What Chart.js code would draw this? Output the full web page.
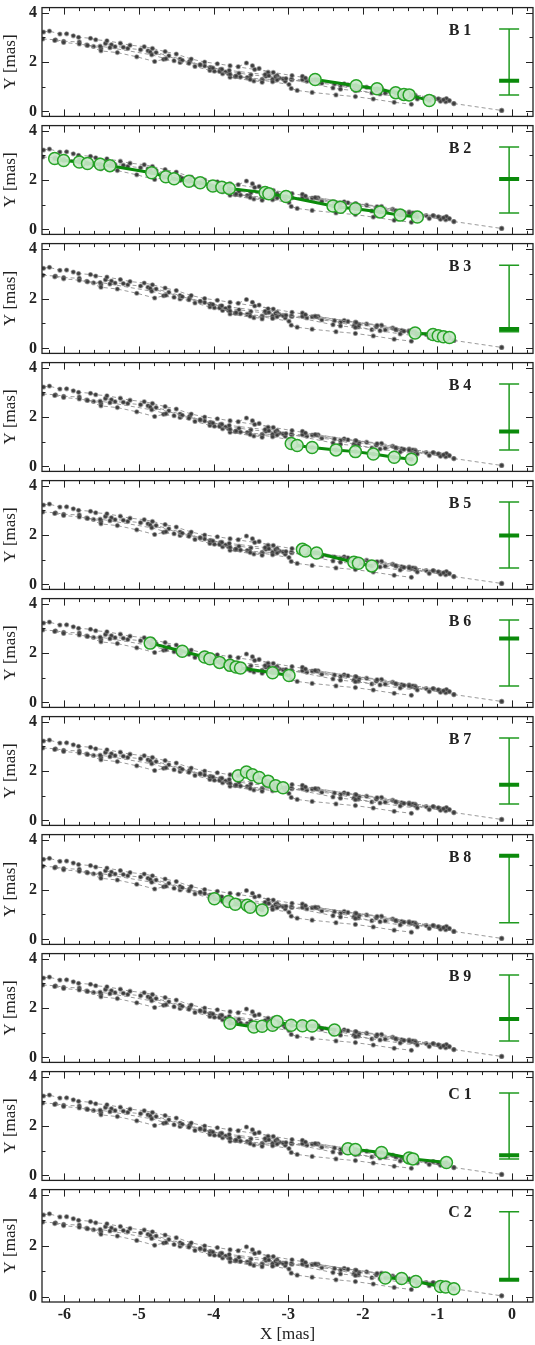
<!DOCTYPE html>
<html>
<head>
<meta charset="utf-8">
<script src="https://cdn.jsdelivr.net/npm/chart.js@4.4.1/dist/chart.umd.min.js"></script>
<style>
  html, body { margin: 0; padding: 0; background: #fff; }
  #wrap { position: relative; width: 535px; height: 1345px; overflow: hidden; }
  #wrap canvas { position: absolute; left: 0; }
</style>
</head>
<body>
<div id="wrap"></div>
<script>
// component positions [x, y] in mas, in time order
const B1 = [[-2.64, 1.29], [-2.09, 1.04], [-1.81, 0.92], [-1.56, 0.76], [-1.45, 0.69], [-1.38, 0.67], [-1.11, 0.44]];
const B2 = [[-6.13, 2.87], [-6.01, 2.79], [-5.80, 2.73], [-5.69, 2.67], [-5.52, 2.64], [-5.39, 2.58],
            [-4.83, 2.29], [-4.64, 2.13], [-4.53, 2.05], [-4.33, 1.95], [-4.18, 1.89], [-4.01, 1.76],
            [-3.89, 1.71], [-3.79, 1.66], [-3.31, 1.49], [-3.26, 1.44], [-3.03, 1.33], [-2.40, 0.95],
            [-2.30, 0.90], [-2.10, 0.84], [-1.77, 0.71], [-1.50, 0.58], [-1.27, 0.50]];
const B3 = [[-1.30, 0.62], [-1.06, 0.56], [-0.99, 0.51], [-0.92, 0.47], [-0.84, 0.44]];
const B4 = [[-2.96, 0.93], [-2.88, 0.85], [-2.68, 0.77], [-2.36, 0.67], [-2.10, 0.60], [-1.86, 0.50], [-1.58, 0.37], [-1.35, 0.29]];
const B5 = [[-2.81, 1.42], [-2.77, 1.35], [-2.62, 1.27], [-2.12, 0.90], [-2.06, 0.86], [-1.88, 0.75]];
const B6 = [[-4.85, 2.40], [-4.42, 2.07], [-4.12, 1.84], [-4.05, 1.77], [-3.92, 1.62], [-3.78, 1.50],
            [-3.70, 1.43], [-3.64, 1.39], [-3.21, 1.20], [-2.99, 1.09]];
const B7 = [[-3.67, 1.81], [-3.56, 1.96], [-3.48, 1.85], [-3.39, 1.74], [-3.27, 1.59], [-3.17, 1.40], [-3.07, 1.32]];
const B8 = [[-3.99, 1.63], [-3.80, 1.52], [-3.71, 1.41], [-3.55, 1.37], [-3.51, 1.29], [-3.35, 1.18]];
const B9 = [[-3.78, 1.38], [-3.46, 1.23], [-3.35, 1.26], [-3.21, 1.30], [-3.15, 1.45], [-2.96, 1.30],
            [-2.81, 1.28], [-2.68, 1.27], [-2.38, 1.11]];
const C1 = [[-2.20, 1.08], [-2.10, 1.05], [-1.75, 0.93], [-1.38, 0.71], [-1.33, 0.67], [-0.88, 0.52]];
const C2 = [[-1.70, 0.74], [-1.48, 0.72], [-1.29, 0.60], [-0.96, 0.41], [-0.89, 0.39], [-0.78, 0.32]];

// other components, shown only in grey
const E1 = [[-6.28, 3.21], [-6.20, 3.25], [-6.06, 3.13], [-5.97, 3.14], [-5.88, 3.06], [-5.81, 3.00],
            [-5.65, 2.96], [-5.58, 2.90], [-5.43, 2.86], [-5.25, 2.76], [-5.12, 2.68], [-4.93, 2.62],
            [-4.82, 2.55], [-4.65, 2.42], [-4.50, 2.32], [-4.30, 2.12], [-4.12, 2.00], [-3.95, 1.93],
            [-3.78, 1.85], [-3.45, 1.70], [-3.20, 1.58], [-2.95, 1.45], [-2.60, 1.28], [-2.25, 1.12],
            [-1.95, 0.98], [-1.60, 0.82], [-1.30, 0.66], [-1.05, 0.55], [-0.90, 0.47]];
const E2 = [[-6.29, 2.93], [-6.12, 2.90], [-6.01, 2.84], [-5.80, 2.81], [-5.51, 2.45], [-5.29, 2.38],
            [-5.03, 2.21], [-4.79, 2.02], [-4.67, 2.11], [-4.45, 1.98], [-4.25, 1.82], [-4.05, 1.66],
            [-3.88, 1.52], [-3.70, 1.42], [-3.52, 1.36], [-3.35, 1.30], [-3.15, 1.27], [-3.04, 1.22]];
const E3 = [[-5.70, 2.69], [-5.61, 2.63], [-5.51, 2.56], [-5.45, 2.75], [-5.37, 2.70], [-5.32, 2.62],
            [-5.21, 2.60], [-5.15, 2.55], [-4.98, 2.50], [-4.88, 2.45], [-4.77, 2.38], [-4.60, 2.25],
            [-4.45, 2.12], [-4.32, 2.03], [-4.18, 1.88], [-4.04, 1.78], [-3.91, 1.70], [-3.84, 1.60],
            [-3.66, 1.55], [-3.50, 1.48], [-3.30, 1.42], [-3.12, 1.35], [-2.95, 1.28], [-2.75, 1.22],
            [-2.55, 1.14], [-2.30, 1.05], [-2.05, 0.96], [-1.82, 0.86], [-1.55, 0.74], [-1.35, 0.64],
            [-1.15, 0.56], [-0.98, 0.50], [-0.86, 0.44]];
const coreLink = [[-0.78, 0.32], [-0.14, 0.04]];

const panelNames = ['B 1', 'B 2', 'B 3', 'B 4', 'B 5', 'B 6', 'B 7', 'B 8', 'B 9', 'C 1', 'C 2'];
const panelTracks = [B1, B2, B3, B4, B5, B6, B7, B8, B9, C1, C2];
const greyTracks = [B1, B2, B3, B4, B5, B6, B7, B8, B9, C1, C2, E1, E2, E3, coreLink];

// epoch marker on the time bar at right
const epochMarks = [1.24, 2.04, 0.78, 1.41, 1.98, 2.59, 1.44, 3.35, 1.56, 0.82, 0.67];
const epochRange = [0.67, 3.33];
const barX = -0.04;

const xTicks = [-6, -5, -4, -3, -2, -1, 0];
const yTicks = [0, 1, 2, 3, 4];

const GREEN = '#0b8a0b';
const SERIF = '"Liberation Serif", "DejaVu Serif", serif';

const toPts = arr => arr.map(p => ({ x: p[0], y: p[1] }));

// frame, inward ticks and panel name
const framePlugin = {
    id: 'frame',
    afterDatasetsDraw(chart, args, opts) {
        const { ctx, chartArea: a, scales: { x, y } } = chart;
        ctx.save();
        ctx.strokeStyle = '#222';
        ctx.lineWidth = 1;
        ctx.beginPath();
        for (let k = -31; k <= 1; k++) {
            const px = Math.round(x.getPixelForValue(k / 5)) + 0.5;
            const len = k % 5 === 0 ? 7 : 3.5;
            ctx.moveTo(px, a.top); ctx.lineTo(px, a.top + len);
            ctx.moveTo(px, a.bottom); ctx.lineTo(px, a.bottom - len);
        }
        yTicks.forEach(v => {
            const py = Math.round(y.getPixelForValue(v)) + 0.5;
            const len = v % 2 === 0 ? 7 : 3.5;
            ctx.moveTo(a.left, py); ctx.lineTo(a.left + len, py);
            ctx.moveTo(a.right, py); ctx.lineTo(a.right - len, py);
        });
        ctx.stroke();
        ctx.lineWidth = 1.3;
        ctx.strokeRect(a.left, a.top, a.right - a.left, a.bottom - a.top);
        ctx.fillStyle = '#222';
        ctx.font = 'bold 16px ' + SERIF;
        ctx.textAlign = 'center';
        ctx.textBaseline = 'middle';
        ctx.fillText(opts.name, a.right - 73, a.top + 23);
        ctx.restore();
    }
};

const wrap = document.getElementById('wrap');
const N = panelNames.length;
const pitch = 118.2;
const top0 = 3;

for (let i = 0; i < N; i++) {
    const last = i === N - 1;
    const areaTop = Math.round(top0 + i * pitch);
    const areaBot = Math.round(top0 + (i + 1) * pitch);
    const canvasTop = areaTop - 10;
    const height = last ? 1345 - canvasTop : areaBot - areaTop + 20;

    const canvas = document.createElement('canvas');
    canvas.width = 535;
    canvas.height = height;
    canvas.style.top = canvasTop + 'px';
    wrap.appendChild(canvas);

    const datasets = [];
    datasets.push({
        data: toPts(panelTracks[i]),
        showLine: true,
        borderColor: GREEN,
        borderWidth: 3,
        pointRadius: 6,
        pointBackgroundColor: 'rgba(200,232,200,0.9)',
        pointBorderColor: '#27a327',
        pointBorderWidth: 1.5,
        order: 0
    });
    datasets.push({
        data: [{ x: barX, y: epochMarks[i] }],
        pointStyle: 'line',
        pointRadius: 10,
        pointBorderColor: GREEN,
        pointBorderWidth: 4,
        order: 1
    });
    datasets.push({
        data: [{ x: barX, y: epochRange[0] }, { x: barX, y: epochRange[1] }],
        showLine: true,
        borderColor: '#1f9a1f',
        borderWidth: 1.5,
        pointStyle: 'line',
        pointRadius: 10,
        pointBorderColor: '#1f9a1f',
        pointBorderWidth: 1.5,
        order: 2
    });
    greyTracks.forEach(t => {
        datasets.push({
            data: toPts(t),
            showLine: true,
            borderColor: '#8e8e8e',
            borderWidth: 0.9,
            borderDash: [4, 3],
            pointRadius: 2,
            pointBackgroundColor: '#3c3c3c',
            pointBorderColor: 'rgba(120,120,120,0.55)',
            pointBorderWidth: 1.2,
            order: 5
        });
    });
    datasets.push({
        data: [{ x: -0.14, y: 0.04 }],
        pointRadius: 2,
        pointBackgroundColor: '#3c3c3c',
        pointBorderColor: 'rgba(120,120,120,0.55)',
        pointBorderWidth: 1.2,
        order: 5
    });

    new Chart(canvas, {
        type: 'scatter',
        data: { datasets },
        options: {
            responsive: false,
            animation: false,
            devicePixelRatio: 1,
            layout: { autoPadding: false, padding: { top: 10, right: 2, left: 0, bottom: last ? 0 : 10 } },
            plugins: {
                legend: { display: false },
                tooltip: { enabled: false },
                frame: { name: panelNames[i] }
            },
            scales: {
                x: {
                    type: 'linear',
                    min: -6.30,
                    max: 0.28,
                    display: last,
                    grid: { display: false, drawTicks: false },
                    border: { display: false },
                    afterBuildTicks: s => { s.ticks = xTicks.map(v => ({ value: v })); },
                    afterFit: s => { if (last) s.height = 43; },
                    ticks: {
                        padding: 3,
                        color: '#222',
                        font: { family: SERIF, size: 16, weight: 'bold' },
                        callback: v => String(v)
                    },
                    title: {
                        display: true,
                        text: 'X [mas]',
                        color: '#222',
                        padding: { top: 0, bottom: 0 },
                        font: { family: SERIF, size: 17 }
                    }
                },
                y: {
                    type: 'linear',
                    min: -0.2,
                    max: 4.2,
                    grid: { display: false, drawTicks: false },
                    border: { display: false },
                    afterBuildTicks: s => { s.ticks = yTicks.map(v => ({ value: v })); },
                    afterFit: s => { s.width = 42; },
                    ticks: {
                        padding: 5,
                        color: '#222',
                        font: { family: SERIF, size: 16, weight: 'bold' },
                        callback: v => (v % 2 === 0 ? String(v) : '')
                    },
                    title: {
                        display: true,
                        text: 'Y [mas]',
                        color: '#222',
                        padding: { top: 0, bottom: 2 },
                        font: { family: SERIF, size: 17 }
                    }
                }
            }
        },
        plugins: [framePlugin]
    });
}
</script>
</body>
</html>
